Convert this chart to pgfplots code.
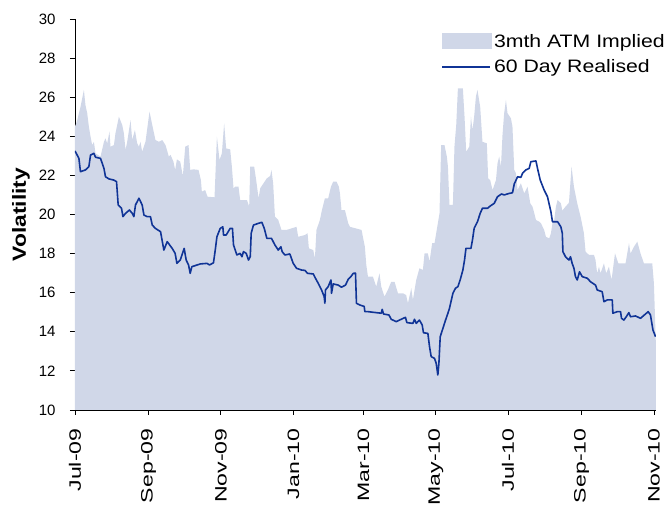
\documentclass[border=0pt]{standalone}
\usepackage{fontspec}
\setmainfont{Liberation Sans}
\usepackage{graphicx}
\usepackage{pgfplots}
\pgfplotsset{compat=1.18}
\definecolor{areacol}{RGB}{208,215,232}
\definecolor{linecol}{RGB}{16,52,150}
\newcommand{\xlab}[1]{\rotatebox{90}{\scalebox{1.4}[1]{#1}}}
\newcommand{\legtxt}[1]{\scalebox{1.18}[1]{#1}}
\begin{document}
\begin{tikzpicture}
\begin{axis}[
  at={(0,0)}, anchor=south west,
  scale only axis, width=580.8pt, height=391pt,
  xmin=0, xmax=489.5, ymin=10, ymax=30,
  axis lines*=left,
  axis line style={line width=0.9pt, black},
  tick align=outside, major tick length=5pt,
  tick style={line width=0.9pt, black},
  xtick={0,62,123,184,243,304,365,427,488},
  xticklabels={\xlab{Jul-09},\xlab{Sep-09},\xlab{Nov-09},\xlab{Jan-10},\xlab{Mar-10},\xlab{May-10},\xlab{Jul-10},\xlab{Sep-10},\xlab{Nov-10}},
  xticklabel style={anchor=north, font=\fontsize{16.5}{16.5}\selectfont, yshift=-10pt},
  ytick={10,12,...,30},
  every y tick label/.append style={font=\fontsize{15}{15}\selectfont, xshift=-11pt},
  /pgf/number format/assume math mode=true,
  ylabel={\scalebox{1.2}[1]{\textbf{Volatility}}},
  ylabel style={at={(axis description cs:-0.093,0.5)}, anchor=center, rotate=0, font=\fontsize{19}{19}\selectfont},
  legend style={draw=none, fill=none, at={(axis description cs:0.625,0.972)}, anchor=north west,
    font=\fontsize{18}{18}\selectfont, row sep=7pt},
  legend cell align=left,
  clip=true,
]
\addplot[fill=areacol, draw=none,
  legend image code/.code={\fill[areacol] (0pt,-8pt) rectangle (50pt,8pt);}]
table {
x y
0 10
0 24.49
1.9 24.83
4.6 25.5
7.5 26.37
8.8 25.6
10.3 25.18
11.7 24.49
13.1 23.98
14.5 23.55
15.9 23.72
17.3 23.13
21.5 22.96
24.4 23.72
25.7 23.9
27.1 23.64
29.1 24.24
29.9 23.47
32.8 23.55
34.1 24.15
37.0 25.0
39.8 24.58
41.2 24.15
42.6 23.3
44.0 23.72
46.8 24.83
48.2 23.81
50.5 24.32
52.4 23.64
53.9 23.47
55.2 23.72
56.6 23.21
59.4 23.72
62.8 25.26
65.1 24.58
67.8 23.81
70.7 23.72
73.5 23.81
76.3 23.55
79.1 22.96
80.5 23.05
83.0 22.7
84.4 22.28
85.9 22.82
88.7 22.7
90.9 21.97
92.9 23.47
95.7 23.55
97.1 22.28
99.9 22.31
104.1 22.28
106.1 21.76
106.9 21.17
109.7 21.25
111.7 20.91
117.6 20.88
119.6 23.98
121.8 22.79
123.8 23.13
125.7 24.66
127.4 23.38
130.8 23.33
132.2 22.45
133.6 21.34
135.0 21.42
137.8 21.42
139.2 20.74
144.9 20.74
146.8 20.4
147.7 22.45
151.0 22.45
152.7 21.76
154.7 20.83
156.1 21.34
158.9 21.6
161.7 21.85
164.5 21.97
165.6 22.28
167.0 21.6
168.5 19.89
171.3 19.72
174.0 19.21
178.3 19.21
182.5 19.29
186.7 19.37
188.1 18.86
193.8 18.95
196.0 19.04
197.1 18.27
200.8 18.18
202.2 17.76
203.5 19.21
206.4 19.72
207.8 20.14
210.6 20.83
213.4 20.83
215.7 21.42
217.6 21.68
220.4 21.68
222.4 21.42
223.3 21.08
224.6 20.23
227.5 20.23
230.3 19.55
231.7 19.37
241.5 19.21
244.3 18.35
245.5 17.42
246.9 16.82
251.1 16.82
253.9 16.31
256.6 16.99
258.1 16.31
260.8 15.8
263.7 16.14
266.5 16.56
269.3 16.56
272.2 15.97
276.4 15.97
279.1 15.88
280.6 15.46
283.4 16.23
284.8 15.63
287.6 16.65
290.3 17.25
293.2 17.16
294.6 18.01
297.4 18.01
298.8 17.59
301.0 18.53
303.0 18.53
304.4 19.04
307.2 20.06
308.6 23.55
311.4 23.55
313.4 22.96
314.3 22.45
315.6 20.49
318.5 20.49
319.8 23.47
321.3 24.58
322.7 26.45
326.9 26.45
328.3 25.0
329.7 23.21
332.3 23.47
333.7 25.0
335.0 24.32
336.4 25.0
337.9 26.03
339.2 26.37
341.5 25.5
343.4 23.72
347.1 23.64
348.2 21.85
349.9 21.76
351.9 21.25
354.8 21.76
356.1 22.62
357.5 22.96
359.0 22.45
360.3 24.07
361.7 25.18
363.2 25.86
364.5 25.18
367.4 24.92
368.7 24.49
370.2 22.28
371.6 22.11
373.0 21.25
375.8 21.6
378.6 21.08
381.4 21.42
383.7 20.57
385.6 20.4
387.1 20.06
388.5 19.72
391.3 19.63
392.7 19.55
395.4 19.21
396.9 18.86
399.7 18.78
401.1 19.04
402.4 19.55
403.9 19.72
405.3 20.4
406.7 20.74
409.5 20.57
410.7 20.2
413.4 20.4
416.3 20.6
418.5 22.45
420.5 21.42
423.3 20.57
426.1 19.89
428.9 19.04
430.3 18.1
433.2 17.93
437.4 17.93
438.7 17.67
440.1 16.99
441.6 17.33
442.9 16.99
445.8 17.5
447.7 16.99
450.0 17.33
452.2 16.65
455.1 18.01
457.9 17.5
464.0 17.5
466.9 18.53
468.2 18.01
471.1 18.35
473.9 18.61
476.6 18.01
479.5 17.5
486.5 17.5
487.9 16.48
489.5 13.5
489.5 10
};
\addlegendentry{\legtxt{3mth ATM Implied}}
\addplot[linecol, line width=1.6pt, line join=round,
  legend image code/.code={\draw[linecol, line width=1.6pt] (0pt,0pt) -- (48pt,0pt);}]
table {
x y
0 23.25
3.3 22.87
4.6 22.19
8.8 22.28
11.7 22.45
13.1 23.04
15.9 23.13
17.3 22.93
21.5 22.87
24.4 22.36
25.7 21.93
28.6 21.82
32.8 21.76
35.0 21.68
36.4 20.49
39.2 20.32
40.4 19.89
42.6 20.06
45.9 20.23
48.2 20.06
49.6 19.89
51.0 20.49
53.9 20.83
56.6 20.49
58.1 19.97
60.8 19.89
63.6 19.89
65.1 19.46
67.8 19.29
72.1 19.12
74.9 18.18
77.7 18.61
81.9 18.27
84.4 18.01
85.9 17.5
88.7 17.67
92.0 18.27
93.7 17.67
95.7 17.42
97.1 16.99
98.5 17.33
105.5 17.47
111.2 17.5
113.4 17.42
116.7 17.53
118.2 18.18
119.6 18.86
122.4 19.29
124.6 19.37
125.2 18.95
127.4 18.95
130.8 19.29
132.7 19.29
133.6 18.44
136.4 17.93
139.2 18.01
140.7 17.84
142.0 18.1
144.3 18.01
146.2 17.67
147.7 17.84
148.5 19.04
150.4 19.46
154.7 19.55
157.5 19.6
159.5 19.29
161.7 18.78
165.6 18.78
168.5 18.44
171.3 18.18
173.5 18.35
174.6 18.1
176.9 17.93
181.1 17.98
183.9 17.5
186.7 17.25
190.9 17.16
193.8 17.14
196.0 16.99
200.8 16.96
202.2 16.79
205.0 16.48
207.8 16.14
210.0 15.8
210.6 15.46
211.1 16.14
213.4 16.31
215.7 16.65
216.2 15.97
217.6 16.45
221.8 16.39
224.6 16.28
228.0 16.39
230.3 16.69
232.5 16.82
234.5 16.99
236.4 17.0
237.2 15.46
240.1 15.37
243.7 15.3
244.3 15.03
247.1 15.03
251.1 15.0
258.1 14.95
258.9 15.15
260.0 14.91
264.6 14.86
266.5 14.64
270.7 14.52
273.5 14.6
278.5 14.74
279.7 14.47
284.8 14.43
286.1 14.64
287.6 14.43
290.3 14.6
292.6 14.35
293.7 13.95
297.4 13.92
298.8 13.24
300.2 12.73
303.0 12.64
304.4 12.39
305.8 11.79
306.7 12.39
307.8 13.75
310.1 14.18
312.3 14.6
314.3 14.95
315.6 15.2
318.5 15.97
320.7 16.23
322.7 16.31
324.6 16.65
326.9 17.16
328.3 17.67
329.5 18.27
333.7 18.27
335.0 18.7
336.4 19.29
339.2 19.63
341.5 20.06
343.4 20.32
347.7 20.32
349.9 20.43
353.3 20.57
356.1 20.91
359.5 21.05
361.7 21.0
366.0 21.08
368.7 21.11
370.2 21.56
373.0 21.93
375.8 21.9
377.2 22.11
380.0 22.28
382.8 22.36
384.2 22.7
388.5 22.74
389.8 22.36
392.1 21.76
395.4 21.25
398.2 20.91
401.1 20.14
402.4 19.63
406.7 19.63
409.5 19.37
410.7 19.04
411.2 18.1
413.4 17.84
416.3 17.67
417.6 17.84
419.0 17.5
420.5 17.25
421.8 16.82
423.3 16.65
425.2 17.07
427.5 16.82
431.7 16.74
434.5 16.56
438.7 16.39
440.1 16.14
444.3 16.05
445.8 15.54
448.6 15.63
452.8 15.63
453.3 14.95
457.0 15.03
459.8 15.03
460.6 14.69
462.6 14.6
464.6 14.77
466.8 14.98
468.2 14.77
472.4 14.81
476.6 14.69
480.8 14.91
483.1 15.03
485.0 14.86
487.1 14.09
489.3 13.75
};
\addlegendentry{\legtxt{60 Day Realised}}
\end{axis}
\pgfresetboundingbox
\path[use as bounding box] (-75pt,-98pt) rectangle (592pt,410pt);
\end{tikzpicture}
\end{document}
